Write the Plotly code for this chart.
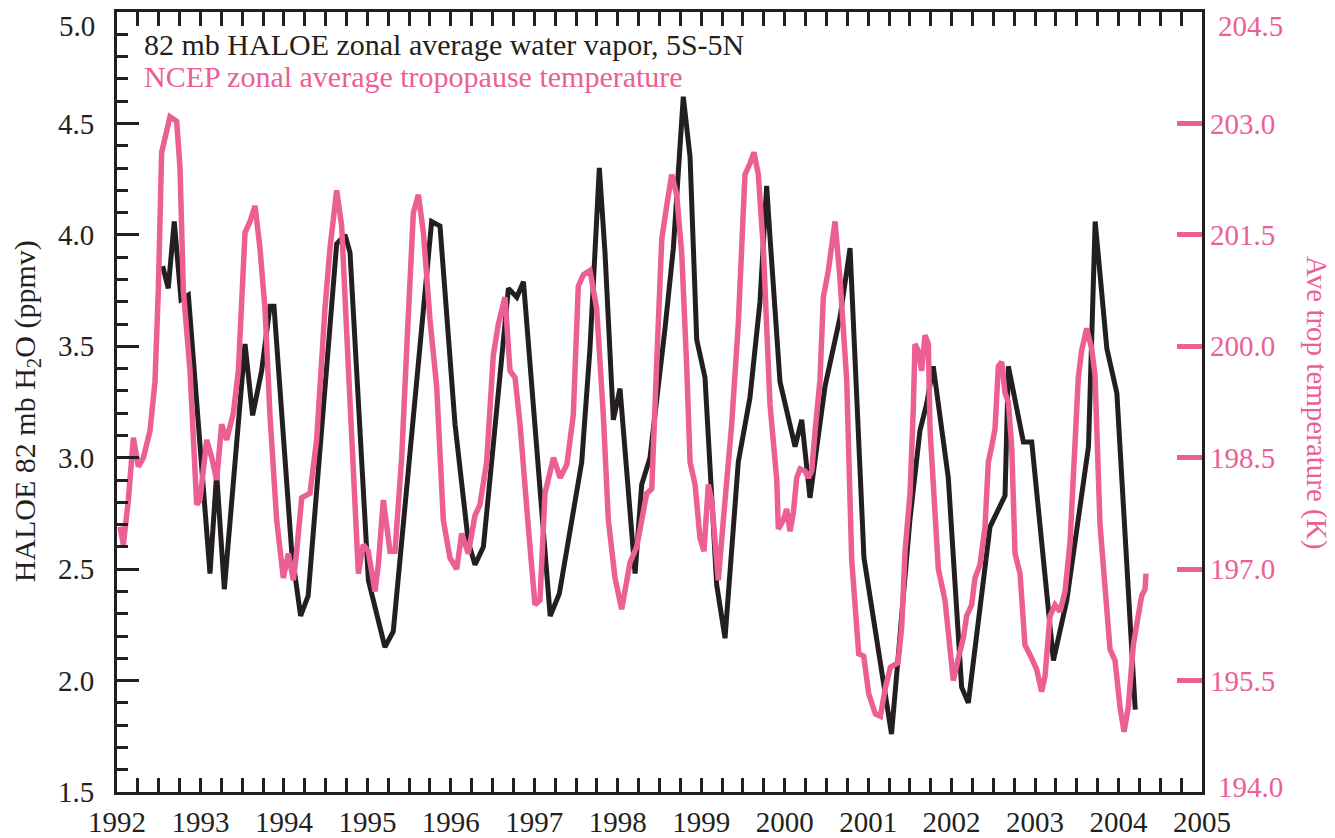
import plotly.graph_objects as go

# HALOE 82 mb zonal mean water vapor, 5S-5N (ppmv) -- monthly vertices
haloe_year = [1992.547, 1992.614, 1992.686, 1992.767, 1992.855, 1993.114, 1993.194, 1993.286,
              1993.534, 1993.625, 1993.733, 1993.833, 1993.881, 1994.093, 1994.200, 1994.290,
              1994.632, 1994.732, 1994.792, 1995.012, 1995.210, 1995.310, 1995.770, 1995.870,
              1996.050, 1996.210, 1996.290, 1996.390, 1996.690, 1996.790, 1996.870, 1997.190,
              1997.300, 1997.467, 1997.568, 1997.667, 1997.779, 1997.847, 1997.947, 1998.027,
              1998.207, 1998.287, 1998.386, 1998.566, 1998.666, 1998.785, 1998.866, 1998.946,
              1999.045, 1999.185, 1999.285, 1999.444, 1999.584, 1999.704, 1999.784, 1999.824,
              1999.944, 2000.124, 2000.204, 2000.303, 2000.483, 2000.663, 2000.783, 2000.950,
              2001.280, 2001.340, 2001.500, 2001.620, 2001.700, 2001.780, 2001.960, 2002.120,
              2002.200, 2002.460, 2002.640, 2002.680, 2002.740, 2002.860, 2002.960, 2003.220,
              2003.380, 2003.640, 2003.720, 2003.860, 2003.980, 2004.200]
haloe_h2o = [3.86, 3.76, 4.06, 3.71, 3.73, 2.48, 2.93, 2.41,
             3.51, 3.19, 3.39, 3.68, 3.68, 2.58, 2.29, 2.38,
             3.96, 4.00, 3.92, 2.45, 2.15, 2.22, 4.06, 4.04,
             3.15, 2.62, 2.52, 2.60, 3.76, 3.72, 3.79, 2.29,
             2.39, 2.76, 2.98, 3.49, 4.30, 3.92, 3.17, 3.31,
             2.48, 2.88, 3.00, 3.58, 3.94, 4.62, 4.35, 3.53,
             3.36, 2.43, 2.19, 2.98, 3.27, 3.70, 4.22, 3.99,
             3.34, 3.05, 3.17, 2.82, 3.32, 3.63, 3.94, 2.55,
             1.76, 2.02, 2.72, 3.12, 3.24, 3.41, 2.91, 1.97,
             1.90, 2.69, 2.83, 3.41, 3.29, 3.07, 3.07, 2.09,
             2.36, 3.05, 4.06, 3.49, 3.29, 1.87]

# NCEP zonal mean tropopause temperature (K)
ncep_year = [1992.036, 1992.076, 1992.136, 1992.196, 1992.256, 1992.316, 1992.395, 1992.455,
             1992.495, 1992.535, 1992.635, 1992.715, 1992.755, 1992.795, 1992.875, 1992.955,
             1992.994, 1993.075, 1993.135, 1993.194, 1993.254, 1993.314, 1993.394, 1993.454,
             1993.534, 1993.594, 1993.654, 1993.713, 1993.773, 1993.833, 1993.913, 1993.993,
             1994.053, 1994.113, 1994.153, 1994.213, 1994.312, 1994.392, 1994.492, 1994.552,
             1994.632, 1994.692, 1994.752, 1994.832, 1994.892, 1994.951, 1995.011, 1995.091,
             1995.131, 1995.191, 1995.271, 1995.331, 1995.411, 1995.471, 1995.551, 1995.611,
             1995.671, 1995.750, 1995.830, 1995.910, 1995.990, 1996.070, 1996.130, 1996.209,
             1996.289, 1996.349, 1996.429, 1996.509, 1996.569, 1996.649, 1996.709, 1996.769,
             1996.829, 1996.928, 1997.008, 1997.068, 1997.128, 1997.230, 1997.310, 1997.390,
             1997.467, 1997.527, 1997.587, 1997.667, 1997.747, 1997.827, 1997.887, 1997.967,
             1998.047, 1998.147, 1998.227, 1998.347, 1998.407, 1998.467, 1998.527, 1998.586,
             1998.646, 1998.706, 1998.766, 1998.826, 1998.866, 1998.926, 1998.985, 1999.033,
             1999.085, 1999.125, 1999.205, 1999.265, 1999.365, 1999.444, 1999.524, 1999.584,
             1999.632, 1999.684, 1999.744, 1999.824, 1999.905, 1999.924, 1999.984, 2000.024,
             2000.064, 2000.103, 2000.144, 2000.184, 2000.244, 2000.283, 2000.324, 2000.364,
             2000.423, 2000.463, 2000.523, 2000.603, 2000.663, 2000.743, 2000.803, 2000.847,
             2000.887, 2000.947, 2001.007, 2001.087, 2001.147, 2001.207, 2001.267, 2001.358,
             2001.402, 2001.442, 2001.502, 2001.541, 2001.561, 2001.601, 2001.641, 2001.681,
             2001.721, 2001.741, 2001.801, 2001.841, 2001.921, 2001.981, 2002.020, 2002.080,
             2002.140, 2002.180, 2002.240, 2002.280, 2002.340, 2002.400, 2002.440, 2002.480,
             2002.520, 2002.560, 2002.600, 2002.640, 2002.680, 2002.720, 2002.760, 2002.820,
             2002.879, 2002.959, 2003.019, 2003.079, 2003.119, 2003.179, 2003.239, 2003.299,
             2003.359, 2003.419, 2003.479, 2003.518, 2003.558, 2003.618, 2003.678, 2003.718,
             2003.778, 2003.838, 2003.898, 2003.958, 2004.018, 2004.066, 2004.117, 2004.177,
             2004.237, 2004.277, 2004.317, 2004.329]
ncep_temp = [197.57, 197.33, 197.93, 198.77, 198.38, 198.50, 198.86, 199.52,
             200.75, 202.61, 203.09, 203.03, 202.40, 200.75, 199.67, 197.87,
             197.93, 198.74, 198.50, 198.20, 198.95, 198.74, 199.10, 199.67,
             201.53, 201.68, 201.89, 201.32, 200.51, 199.07, 197.66, 196.88,
             197.21, 196.85, 197.24, 197.96, 198.02, 198.74, 200.51, 201.32,
             202.10, 201.62, 200.18, 198.44, 196.94, 197.33, 197.24, 196.70,
             197.06, 197.93, 197.24, 197.24, 198.50, 199.97, 201.80, 202.04,
             201.53, 200.36, 199.46, 197.66, 197.15, 197.00, 197.48, 197.21,
             197.72, 197.87, 198.44, 199.88, 200.30, 200.66, 199.67, 199.58,
             198.95, 197.57, 196.52, 196.58, 198.02, 198.50, 198.23, 198.41,
             199.07, 200.81, 200.96, 201.02, 200.51, 199.07, 197.66, 196.88,
             196.46, 197.09, 197.30, 198.02, 198.08, 199.79, 201.44, 201.89,
             202.31, 202.04, 201.26, 199.73, 198.44, 198.14, 197.42, 197.24,
             198.14, 197.93, 196.85, 197.66, 198.95, 200.30, 202.31, 202.46,
             202.61, 202.31, 201.32, 199.22, 198.20, 197.54, 197.66, 197.81,
             197.51, 197.75, 198.23, 198.35, 198.32, 198.23, 198.32, 198.86,
             199.55, 200.66, 201.02, 201.68, 200.90, 199.55, 197.12, 196.46,
             195.86, 195.83, 195.32, 195.05, 195.02, 195.41, 195.68, 195.74,
             196.22, 197.24, 198.02, 199.16, 200.03, 199.94, 199.67, 200.15,
             200.03, 198.89, 197.60, 197.00, 196.58, 195.80, 195.50, 195.80,
             196.07, 196.37, 196.52, 196.88, 197.06, 197.57, 198.44, 198.65,
             198.89, 199.73, 199.79, 199.37, 199.25, 198.65, 197.21, 196.94,
             195.98, 195.80, 195.65, 195.35, 195.56, 196.37, 196.52, 196.43,
             196.70, 197.36, 198.53, 199.58, 199.94, 200.24, 199.97, 199.61,
             197.60, 196.70, 195.92, 195.77, 195.14, 194.81, 195.14, 195.98,
             196.37, 196.64, 196.73, 196.94]

# axis tick values
h2o_ticks = [1.5, 2.0, 2.5, 3.0, 3.5, 4.0, 4.5]
temp_ticks = [195.5, 197.0, 198.5, 200.0, 201.5, 203.0]

BLACK = "#231F20"
PINK = "#EC5F95"
FONT = "Liberation Serif"
TICK_SIZE = 29
TEXT_SIZE = 30

fig = go.Figure()
fig.add_trace(go.Scatter(x=haloe_year, y=haloe_h2o, mode="lines",
                         line=dict(color=BLACK, width=5), yaxis="y", showlegend=False))
fig.add_trace(go.Scatter(x=ncep_year, y=ncep_temp, mode="lines",
                         line=dict(color=PINK, width=5.5), yaxis="y2", showlegend=False))

fig.update_layout(
    width=1335, height=838,
    margin=dict(l=109, r=141, t=4, b=54, autoexpand=False),
    paper_bgcolor="white", plot_bgcolor="white",
    font=dict(family=FONT, size=TICK_SIZE, color=BLACK),
    xaxis=dict(range=[1992, 2005], dtick=1, tick0=1992, showgrid=False, zeroline=False,
               showline=True, linecolor=BLACK, linewidth=3, mirror="allticks",
               ticks="inside", ticklen=14, tickwidth=3, tickcolor=BLACK,
               minor=dict(dtick=0.25, ticks="inside", ticklen=7, tickwidth=3, tickcolor=BLACK),
               tickfont=dict(family=FONT, size=TICK_SIZE, color=BLACK), ticklabelstandoff=2),
    yaxis=dict(range=[1.5, 5.0], tickmode="array", tickvals=h2o_ticks, tickformat=".1f",
               showgrid=False, zeroline=False, showline=True, linecolor=BLACK, linewidth=3,
               mirror=True, ticks="inside", ticklen=22, tickwidth=3, tickcolor=BLACK,
               minor=dict(tickmode="linear", tick0=1.5, dtick=0.1, ticks="inside", ticklen=11,
                          tickwidth=3, tickcolor=BLACK),
               tickfont=dict(family=FONT, size=TICK_SIZE, color=BLACK), ticklabelstandoff=14),
    yaxis2=dict(range=[194.0, 204.5], tickmode="array", tickvals=temp_ticks, tickformat=".1f",
                overlaying="y", side="right", showgrid=False, zeroline=False, showline=False,
                ticks="inside", ticklen=25, tickwidth=5, tickcolor=PINK,
                tickfont=dict(family=FONT, size=TICK_SIZE, color=PINK), ticklabelstandoff=7),
)

# end-of-axis labels (nudged inside the page like the original)
fig.add_annotation(text="5.0", xref="paper", yref="paper", x=-0.0184, y=1.0045,
                   xanchor="right", yanchor="top", showarrow=False,
                   font=dict(family=FONT, size=TICK_SIZE, color=BLACK))
fig.add_annotation(text="204.5", xref="paper", yref="paper", x=1.0129, y=1.0045,
                   xanchor="left", yanchor="top", showarrow=False,
                   font=dict(family=FONT, size=TICK_SIZE, color=PINK))
fig.add_annotation(text="194.0", xref="paper", yref="paper", x=1.0129, y=0.006,
                   xanchor="left", yanchor="middle", showarrow=False,
                   font=dict(family=FONT, size=TICK_SIZE, color=PINK))

fig.add_annotation(text="HALOE 82 mb H<sub>2</sub>O (ppmv)", xref="paper", yref="paper",
                   x=-0.083, y=0.488, xanchor="center", yanchor="middle", textangle=-90,
                   showarrow=False, font=dict(family=FONT, size=TEXT_SIZE, color=BLACK))
fig.add_annotation(text="Ave trop temperature (K)", xref="paper", yref="paper",
                   x=1.106, y=0.50, xanchor="center", yanchor="middle", textangle=90,
                   showarrow=False, font=dict(family=FONT, size=TEXT_SIZE - 1, color=PINK))
fig.add_annotation(text="82 mb HALOE zonal average water vapor, 5S-5N", xref="paper", yref="paper",
                   x=0.023, y=0.958, xanchor="left", yanchor="middle",
                   showarrow=False, font=dict(family=FONT, size=TEXT_SIZE, color=BLACK))
fig.add_annotation(text="NCEP zonal average tropopause temperature", xref="paper", yref="paper",
                   x=0.023, y=0.917, xanchor="left", yanchor="middle",
                   showarrow=False, font=dict(family=FONT, size=TEXT_SIZE, color=PINK))

fig.write_html("out.html")
